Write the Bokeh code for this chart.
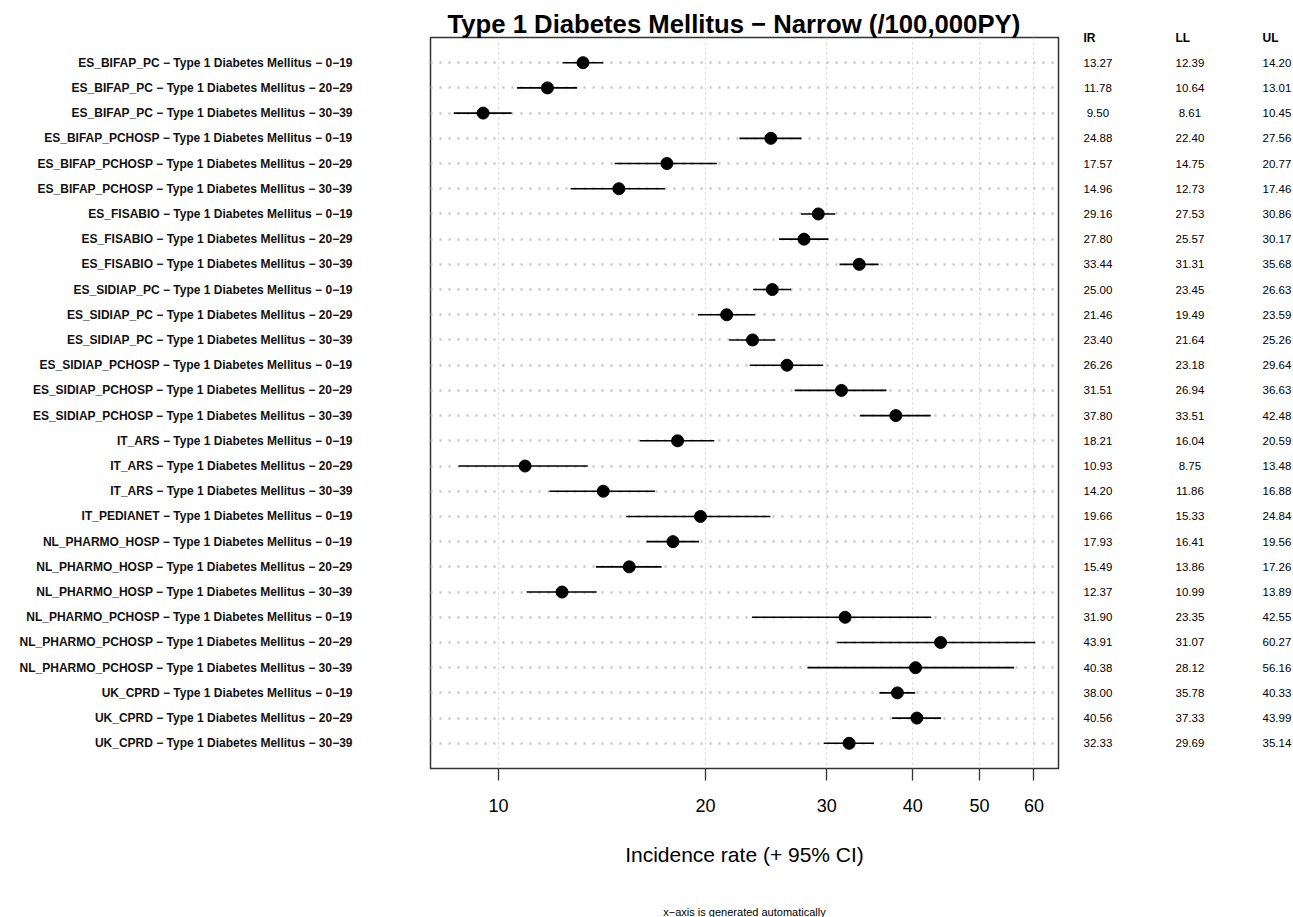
import numpy as np
from bokeh.plotting import figure
from bokeh.layouts import row, column
from bokeh.models import ColumnDataSource, Range1d, FixedTicker
from bokeh.core.properties import value
from bokeh.embed import file_html
from bokeh.resources import INLINE

databases = ["ES_BIFAP_PC"] * 3 + ["ES_BIFAP_PCHOSP"] * 3 + ["ES_FISABIO"] * 3 + \
    ["ES_SIDIAP_PC"] * 3 + ["ES_SIDIAP_PCHOSP"] * 3 + ["IT_ARS"] * 3 + ["IT_PEDIANET"] + \
    ["NL_PHARMO_HOSP"] * 3 + ["NL_PHARMO_PCHOSP"] * 3 + ["UK_CPRD"] * 3
age_groups = ["0\u221219", "20\u221229", "30\u221239"] * 6 + ["0\u221219"] + \
    ["0\u221219", "20\u221229", "30\u221239"] * 3
ir = [13.27, 11.78, 9.50, 24.88, 17.57, 14.96, 29.16, 27.80, 33.44, 25.00, 21.46, 23.40,
      26.26, 31.51, 37.80, 18.21, 10.93, 14.20, 19.66, 17.93, 15.49, 12.37, 31.90, 43.91,
      40.38, 38.00, 40.56, 32.33]
ll = [12.39, 10.64, 8.61, 22.40, 14.75, 12.73, 27.53, 25.57, 31.31, 23.45, 19.49, 21.64,
      23.18, 26.94, 33.51, 16.04, 8.75, 11.86, 15.33, 16.41, 13.86, 10.99, 23.35, 31.07,
      28.12, 35.78, 37.33, 29.69]
ul = [14.20, 13.01, 10.45, 27.56, 20.77, 17.46, 30.86, 30.17, 35.68, 26.63, 23.59, 25.26,
      29.64, 36.63, 42.48, 20.59, 13.48, 16.88, 24.84, 19.56, 17.26, 13.89, 42.55, 60.27,
      56.16, 40.33, 43.99, 35.14]
x_ticks = [10, 20, 30, 40, 50, 60]
title_text = "Type 1 Diabetes Mellitus \u2212 Narrow (/100,000PY)"
x_label = "Incidence rate (+ 95% CI)"
footnote = "x\u2212axis is generated automatically"
headers = ["IR", "LL", "UL"]

n = len(ir)
rows = list(range(1, n + 1))
labels = [f"{d} \u2212 Type 1 Diabetes Mellitus \u2212 {a}" for d, a in zip(databases, age_groups)]

FONT = "Liberation Sans"

# layout constants (pixels)
MAIN_W, MAIN_H = 1060, 890
FR_LEFT, FR_RIGHT_PAD = 430, 2
FR_TOP, FR_BOTTOM = 37, 768
TABLE_W = 1293 - MAIN_W
FOOT_H = 917 - MAIN_H

# R-style 4% expansion in log space
lo, hi = np.log10(min(ll)), np.log10(max(ul))
pad = 0.04 * (hi - lo)
xr = Range1d(10 ** (lo - pad), 10 ** (hi + pad))
ymax = n + 1
yr = Range1d(ymax, 0)

p = figure(width=MAIN_W, height=MAIN_H, x_axis_type="log", x_range=xr, y_range=yr,
           output_backend="svg", toolbar_location=None,
           min_border_left=FR_LEFT, min_border_right=FR_RIGHT_PAD, min_border_top=FR_TOP,
           min_border_bottom=MAIN_H - FR_BOTTOM)
p.background_fill_color = "white"
p.border_fill_color = "white"
p.outline_line_color = "#333333"
p.outline_line_width = 1.5

p.title.text = title_text
p.title.align = "left"
p.title.offset = 17
p.title.text_font = FONT
p.title.text_font_size = "25.7px"
p.title.text_font_style = "bold"
p.title.text_color = "black"
p.title.standoff = 0

# x axis
p.xaxis.ticker = FixedTicker(ticks=x_ticks)
p.xaxis.minor_tick_line_color = None
p.xaxis.major_tick_out = 12
p.xaxis.major_tick_in = 0
p.xaxis.major_tick_line_color = "#333333"
p.xaxis.major_tick_line_width = 1.3
p.xaxis.axis_line_color = None
p.xaxis.major_label_text_font = FONT
p.xaxis.major_label_text_font_size = "18px"
p.xaxis.major_label_text_color = "black"
p.xaxis.major_label_standoff = 18
p.xaxis.axis_label = x_label
p.xaxis.axis_label_text_font = FONT
p.xaxis.axis_label_text_font_size = "21px"
p.xaxis.axis_label_text_font_style = "normal"
p.xaxis.axis_label_text_color = "black"
p.xaxis.axis_label_standoff = 28
p.xaxis.major_label_overrides = {t: str(t) for t in x_ticks}

# y axis as row labels
p.yaxis.ticker = FixedTicker(ticks=rows)
p.yaxis.major_label_overrides = {r: lab for r, lab in zip(rows, labels)}
p.yaxis.major_tick_out = 0
p.yaxis.major_tick_in = 0
p.yaxis.minor_tick_line_color = None
p.yaxis.axis_line_color = None
p.yaxis.major_label_standoff = 78
p.yaxis.major_label_text_font = FONT
p.yaxis.major_label_text_font_size = "12px"
p.yaxis.major_label_text_font_style = "bold"
p.yaxis.major_label_text_color = "#111111"

# grids
p.ygrid.grid_line_color = "#c4c4c4"
p.ygrid.grid_line_width = 2.6
p.ygrid.grid_line_dash = "2 7"
p.xgrid.grid_line_color = "#d6d6d6"
p.xgrid.grid_line_width = 1
p.xgrid.grid_line_dash = "2 3"

src = ColumnDataSource(dict(y=rows, ir=ir, ll=ll, ul=ul))
p.segment(x0="ll", x1="ul", y0="y", y1="y", source=src, line_color="black", line_width=1.6)
p.scatter(x="ir", y="y", source=src, size=12, fill_color="black", line_color="black")

# table figure on the right; its frame is aligned with the main frame by the row layout
NUM_FS = 11.5
col_left = [1083 - MAIN_W, 1175 - MAIN_W, 1262 - MAIN_W]
num_half = 2.502 * NUM_FS / 2
hdr_half = [1.0 * 12 / 2, 1.222 * 12 / 2, 1.333 * 12 / 2]
t = figure(width=TABLE_W, height=MAIN_H, x_range=Range1d(0, TABLE_W), y_range=yr,
           output_backend="svg", toolbar_location=None,
           x_axis_location="above", y_axis_location=None,
           min_border_left=0, min_border_right=0,
           min_border_top=0, min_border_bottom=0)
t.outline_line_color = None
t.grid.visible = False
t.background_fill_color = "white"
t.border_fill_color = "white"
t.xaxis.ticker = FixedTicker(ticks=[l + h for l, h in zip(col_left, hdr_half)])
t.xaxis.major_label_overrides = {l + h: s for l, h, s in zip(col_left, hdr_half, headers)}
t.xaxis.axis_line_color = None
t.xaxis.major_tick_line_color = None
t.xaxis.minor_tick_line_color = None
t.xaxis.major_tick_out = 0
t.xaxis.major_tick_in = 0
t.xaxis.major_label_standoff = -7
t.xaxis.major_label_text_font = FONT
t.xaxis.major_label_text_font_size = "12px"
t.xaxis.major_label_text_font_style = "bold"
t.xaxis.major_label_text_color = "black"

tsrc = ColumnDataSource(dict(
    y=rows,
    irt=[f"{v:.2f}" for v in ir],
    llt=[f"{v:.2f}" for v in ll],
    ult=[f"{v:.2f}" for v in ul]))
for cl, key in zip(col_left, ["irt", "llt", "ult"]):
    t.text(x=cl + num_half, y="y", text=key, source=tsrc, text_align="center",
           text_baseline="middle", text_font=value(FONT), text_font_size=f"{NUM_FS}px",
           text_color="black")

# footer strip with the note
f = figure(width=1293, height=FOOT_H, x_range=Range1d(0, 1293), y_range=Range1d(FOOT_H, 0),
           output_backend="svg", toolbar_location=None,
           x_axis_location=None, y_axis_location=None,
           min_border=0, min_border_left=0, min_border_right=0,
           min_border_top=0, min_border_bottom=0)
f.outline_line_color = None
f.grid.visible = False
f.text(x=[744], y=[911 - MAIN_H], text=[footnote], text_align="center",
       text_baseline="middle", text_font=value(FONT), text_font_size="11px",
       text_color="black")

layout = column(row(p, t), f)
open("out.html", "w").write(file_html(layout, INLINE))
